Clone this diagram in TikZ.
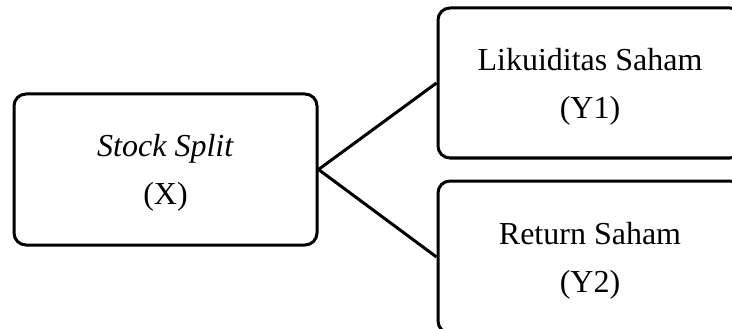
\documentclass[tikz,border=0pt]{standalone}
\usepackage{fontspec}
\setmainfont{Liberation Serif}
\begin{document}
\begin{tikzpicture}[x=1pt,y=-1pt,
  box/.style={draw=black, line width=3pt, rounded corners=12pt, align=center,
    inner sep=0pt, text depth=0pt, font=\fontsize{32}{48}\selectfont},
  link/.style={draw=black, line width=3pt}]
\useasboundingbox (0,0) rectangle (732,329);
\clip (0,0) rectangle (732,329);
\node[box, minimum width=303pt, minimum height=151pt] (x) at (165.5,169.5) {\textit{Stock Split}\\(X)};
\node[box, minimum width=304pt, minimum height=150pt] (y1) at (590,83) {Likuiditas Saham\\(Y1)};
\node[box, minimum width=304pt, minimum height=152pt] (y2) at (590,257) {Return Saham\\(Y2)};
\draw[link] (x.east) -- (y1.west);
\draw[link] (x.east) -- (y2.west);
\end{tikzpicture}
\end{document}
